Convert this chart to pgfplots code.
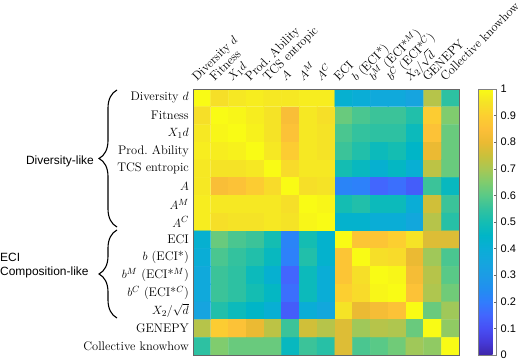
\documentclass[border=0pt]{standalone}
\usepackage{fontspec}
\setsansfont{Liberation Sans}
\usepackage{pgfplots}
\pgfplotsset{compat=1.18}
\usetikzlibrary{decorations.pathreplacing}

% parula-like colormap
\pgfplotsset{
  colormap={parula}{
    rgb(0cm)=(0.243,0.150,0.660); rgb(1cm)=(0.272,0.225,0.850);
    rgb(2cm)=(0.280,0.310,0.960); rgb(3cm)=(0.260,0.400,0.995);
    rgb(4cm)=(0.190,0.490,0.990); rgb(5cm)=(0.130,0.560,0.940);
    rgb(6cm)=(0.110,0.610,0.900); rgb(7cm)=(0.080,0.650,0.870);
    rgb(8cm)=(0.040,0.680,0.840); rgb(9cm)=(0.000,0.710,0.780);
    rgb(10cm)=(0.080,0.740,0.700); rgb(11cm)=(0.200,0.760,0.620);
    rgb(12cm)=(0.350,0.790,0.530); rgb(13cm)=(0.500,0.800,0.430);
    rgb(14cm)=(0.660,0.780,0.330); rgb(15cm)=(0.790,0.755,0.230);
    rgb(16cm)=(0.920,0.730,0.200); rgb(17cm)=(0.990,0.750,0.220);
    rgb(18cm)=(0.990,0.810,0.190); rgb(19cm)=(0.960,0.890,0.150);
    rgb(20cm)=(0.977,0.984,0.081)
  }
}

\begin{document}
\begin{tikzpicture}
\useasboundingbox (0,0) rectangle (523bp,360bp);

\begin{axis}[
  at={(193bp,5bp)}, anchor=south west,
  scale only axis, width=266bp, height=266bp,
  xmin=-0.5, xmax=14.5, ymin=-0.5, ymax=14.5,
  y dir=reverse,
  axis on top,
  xtick={0,...,14}, ytick={0,...,14},
  xticklabels={Diversity $d$, Fitness, $X_1d$, Prod.\ Ability, TCS entropic, $A$, $A^M$, $A^C$, ECI, $b$ (ECI*), $b^M$ (ECI*$^M$), $b^C$ (ECI*$^C$), $X_2/\sqrt{d}$, GENEPY, Collective knowhow},
  yticklabels={Diversity $d$, Fitness, $X_1d$, Prod.\ Ability, TCS entropic, $A$, $A^M$, $A^C$, ECI, $b$ (ECI*), $b^M$ (ECI*$^M$), $b^C$ (ECI*$^C$), $X_2/\sqrt{d}$, GENEPY, Collective knowhow},
  xticklabel pos=upper,
  major tick length=0pt,
  tick label style={font=\fontsize{12.5}{14}\selectfont},
  xticklabel style={xshift=-5bp, yshift=7bp, rotate=45, anchor=base west, inner sep=0pt},
  yticklabel style={anchor=east, inner sep=0pt, xshift=-4bp},
  axis line style={draw=black!60, line width=0.6bp},
  colormap name=parula, point meta min=0, point meta max=1,
  colorbar,
  colorbar style={
    at={(parent axis.north east)}, anchor=north west, xshift=11bp,
    width=18bp,
    /pgf/number format/assume math mode=true,
    /pgf/number format/fixed,
    ytick={0,0.1,0.2,0.3,0.4,0.5,0.6,0.7,0.8,0.9,1},
    ytick pos=right, yticklabel pos=right,
    tick align=inside, major tick length=3bp,
    tick style={draw=black!60},
    yticklabel style={font=\sffamily\fontsize{11}{13}\selectfont, inner sep=0pt, xshift=4bp},
    axis line style={draw=black!50, line width=0.6bp},
  },
]
\addplot[matrix plot*, mesh/cols=15, point meta=explicit] table[row sep=\\, meta=c] {
x y c\\
0 0 1.00\\ 1 0 0.94\\ 2 0 0.96\\ 3 0 0.97\\ 4 0 0.96\\ 5 0 0.96\\ 6 0 0.97\\ 7 0 0.97\\ 8 0 0.42\\ 9 0 0.40\\ 10 0 0.37\\ 11 0 0.37\\ 12 0 0.34\\ 13 0 0.72\\ 14 0 0.54\\
0 1 0.94\\ 1 1 1.00\\ 2 1 0.99\\ 3 1 0.97\\ 4 1 0.95\\ 5 1 0.84\\ 6 1 0.96\\ 7 1 0.94\\ 8 1 0.62\\ 9 1 0.58\\ 10 1 0.56\\ 11 1 0.56\\ 12 1 0.52\\ 13 1 0.89\\ 14 1 0.65\\
0 2 0.96\\ 1 2 0.99\\ 2 2 1.00\\ 3 2 0.98\\ 4 2 0.95\\ 5 2 0.86\\ 6 2 0.96\\ 7 2 0.95\\ 8 2 0.58\\ 9 2 0.55\\ 10 2 0.54\\ 11 2 0.54\\ 12 2 0.48\\ 13 2 0.86\\ 14 2 0.62\\
0 3 0.97\\ 1 3 0.97\\ 2 3 0.98\\ 3 3 1.00\\ 4 3 0.96\\ 5 3 0.89\\ 6 3 0.96\\ 7 3 0.95\\ 8 3 0.56\\ 9 3 0.52\\ 10 3 0.48\\ 11 3 0.50\\ 12 3 0.45\\ 13 3 0.80\\ 14 3 0.62\\
0 4 0.96\\ 1 4 0.95\\ 2 4 0.95\\ 3 4 0.96\\ 4 4 1.00\\ 5 4 0.93\\ 6 4 0.96\\ 7 4 0.96\\ 8 4 0.50\\ 9 4 0.47\\ 10 4 0.42\\ 11 4 0.46\\ 12 4 0.41\\ 13 4 0.73\\ 14 4 0.62\\
0 5 0.96\\ 1 5 0.84\\ 2 5 0.86\\ 3 5 0.89\\ 4 5 0.93\\ 5 5 1.00\\ 6 5 0.94\\ 7 5 0.95\\ 8 5 0.22\\ 9 5 0.21\\ 10 5 0.15\\ 11 5 0.17\\ 12 5 0.13\\ 13 5 0.56\\ 14 5 0.47\\
0 6 0.97\\ 1 6 0.96\\ 2 6 0.96\\ 3 6 0.96\\ 4 6 0.96\\ 5 6 0.94\\ 6 6 1.00\\ 7 6 0.99\\ 8 6 0.50\\ 9 6 0.52\\ 10 6 0.48\\ 11 6 0.48\\ 12 6 0.40\\ 13 6 0.76\\ 14 6 0.56\\
0 7 0.97\\ 1 7 0.94\\ 2 7 0.95\\ 3 7 0.95\\ 4 7 0.96\\ 5 7 0.95\\ 6 7 0.99\\ 7 7 1.00\\ 8 7 0.43\\ 9 7 0.43\\ 10 7 0.40\\ 11 7 0.40\\ 12 7 0.36\\ 13 7 0.72\\ 14 7 0.53\\
0 8 0.42\\ 1 8 0.62\\ 2 8 0.58\\ 3 8 0.56\\ 4 8 0.50\\ 5 8 0.22\\ 6 8 0.50\\ 7 8 0.43\\ 8 8 1.00\\ 9 8 0.87\\ 10 8 0.87\\ 11 8 0.90\\ 12 8 0.95\\ 13 8 0.78\\ 14 8 0.78\\
0 9 0.40\\ 1 9 0.58\\ 2 9 0.55\\ 3 9 0.52\\ 4 9 0.47\\ 5 9 0.21\\ 6 9 0.52\\ 7 9 0.43\\ 8 9 0.87\\ 9 9 1.00\\ 10 9 0.94\\ 11 9 0.93\\ 12 9 0.80\\ 13 9 0.69\\ 14 9 0.58\\
0 10 0.37\\ 1 10 0.56\\ 2 10 0.54\\ 3 10 0.48\\ 4 10 0.42\\ 5 10 0.15\\ 6 10 0.48\\ 7 10 0.40\\ 8 10 0.87\\ 9 10 0.94\\ 10 10 1.00\\ 11 10 0.99\\ 12 10 0.83\\ 13 10 0.72\\ 14 10 0.60\\
0 11 0.37\\ 1 11 0.56\\ 2 11 0.54\\ 3 11 0.50\\ 4 11 0.46\\ 5 11 0.17\\ 6 11 0.48\\ 7 11 0.40\\ 8 11 0.90\\ 9 11 0.93\\ 10 11 0.99\\ 11 11 1.00\\ 12 11 0.86\\ 13 11 0.71\\ 14 11 0.63\\
0 12 0.34\\ 1 12 0.52\\ 2 12 0.48\\ 3 12 0.45\\ 4 12 0.41\\ 5 12 0.13\\ 6 12 0.40\\ 7 12 0.36\\ 8 12 0.95\\ 9 12 0.80\\ 10 12 0.83\\ 11 12 0.86\\ 12 12 1.00\\ 13 12 0.62\\ 14 12 0.69\\
0 13 0.72\\ 1 13 0.89\\ 2 13 0.86\\ 3 13 0.80\\ 4 13 0.73\\ 5 13 0.56\\ 6 13 0.76\\ 7 13 0.72\\ 8 13 0.78\\ 9 13 0.69\\ 10 13 0.72\\ 11 13 0.71\\ 12 13 0.62\\ 13 13 1.00\\ 14 13 0.67\\
0 14 0.54\\ 1 14 0.65\\ 2 14 0.62\\ 3 14 0.62\\ 4 14 0.62\\ 5 14 0.47\\ 6 14 0.56\\ 7 14 0.53\\ 8 14 0.78\\ 9 14 0.58\\ 10 14 0.60\\ 11 14 0.63\\ 12 14 0.69\\ 13 14 0.67\\ 14 14 1.00\\
};
\end{axis}

% group braces and their labels
\draw[decorate, decoration={brace, amplitude=18bp}, line width=1.1bp] (117bp,133bp) -- (117bp,270bp);
\draw[decorate, decoration={brace, amplitude=18bp}, line width=1.1bp] (117bp,42bp) -- (117bp,130bp);
\node[anchor=base east, inner sep=0pt, font=\sffamily\fontsize{12}{14}\selectfont] at (94bp,195.7bp) {Diversity-like};
\node[anchor=base west, inner sep=0pt, font=\sffamily\fontsize{12}{14}\selectfont] at (0bp,98.3bp) {ECI};
\node[anchor=base west, inner sep=0pt, font=\sffamily\fontsize{12}{14}\selectfont] at (0bp,84bp) {Composition-like};
\end{tikzpicture}
\end{document}
